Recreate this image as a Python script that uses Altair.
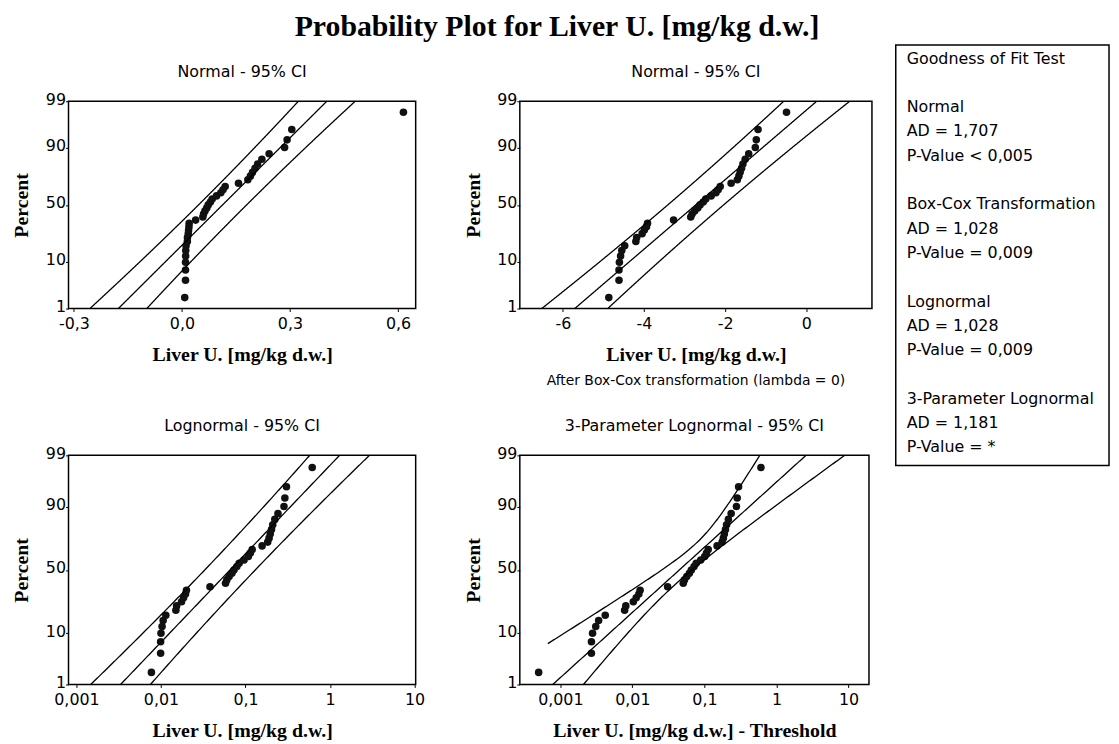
import altair as alt
import pandas as pd
from statistics import NormalDist

# Liver U. [mg/kg d.w.], 37 samples
LIVER_U = [
    0.0077, 0.0099, 0.0099, 0.0100, 0.0103, 0.0106, 0.0114, 0.0150, 0.0153,
    0.0175, 0.0185, 0.0195, 0.0200, 0.038,
    0.058, 0.060, 0.064, 0.069, 0.073, 0.079, 0.084, 0.096, 0.108, 0.114,
    0.120, 0.157,
    0.183, 0.190, 0.196, 0.203, 0.210, 0.222, 0.242, 0.285, 0.292, 0.305, 0.615,
]
THRESHOLD = 0.0072  # 3-parameter lognormal threshold

# fitted lines as drawn: (location, scale)
NORMAL_FIT = [0.1128, 0.1244]
LOGNORMAL_FIT = [-2.724, 1.282]    # on ln(x)
LOGNORMAL3_FIT = [-3.104, 1.739]   # on ln(x - threshold)
# width of the 95% bands
BAND_VAR = [0.075, 0.0055]                      # (a + b*z^2) * scale^2
LOGNORMAL3_LOWER_VAR = [0.008, 0.0296, 0.5]     # log10 units: a + b*(z - c)^2
LOGNORMAL3_UPPER_VAR = [0.008, 0.0098, 0.0059]  # log10 units: a + b*z^2 + c*z
LOWER_BAND_START = -1.5

PERCENT_TICKS = [1, 10, 50, 90, 99]
NORMAL_TICKS = [-0.3, 0.0, 0.3, 0.6]
BOXCOX_TICKS = [-6, -4, -2, 0]
LOG_TICKS = [0.001, 0.01, 0.1, 1, 10]

PANEL_TITLES = [
    "Normal - 95% CI",
    "Normal - 95% CI",
    "Lognormal - 95% CI",
    "3-Parameter Lognormal - 95% CI",
]
X_TITLE = "Liver U. [mg/kg d.w.]"
X_TITLE_3P = "Liver U. [mg/kg d.w.] - Threshold"
MAIN_TITLE = "Probability Plot for Liver U. [mg/kg d.w.]"
BOXCOX_NOTE = "After Box-Cox transformation (lambda = 0)"
GOF_LINES = [
    "Goodness of Fit Test", "",
    "Normal", "AD = 1,707", "P-Value < 0,005", "",
    "Box-Cox Transformation", "AD = 1,028", "P-Value = 0,009", "",
    "Lognormal", "AD = 1,028", "P-Value = 0,009", "",
    "3-Parameter Lognormal", "AD = 1,181", "P-Value = *",
]

Z_TICKS = [NormalDist().inv_cdf(p / 100) for p in PERCENT_TICKS]
Z_LO, Z_HI = Z_TICKS[0], Z_TICKS[-1]

SANS = "DejaVu Sans"
SERIF = "Liberation Serif"

TOP_H, BOT_H = 209, 231
LEFT_W, RIGHT_W = 350, 355
GOF_LINE_H = 24.5

points_df = pd.DataFrame({"liver": LIVER_U})

comma = "replace(replace(format(datum.value, '{f}'), '\u2212', '-'), '.', ',')"


def y_enc(h):
    return alt.Y(
        "z:Q",
        scale=alt.Scale(domain=[Z_LO, Z_HI], nice=False, zero=False),
        axis=alt.Axis(
            values=Z_TICKS,
            labelExpr="format(cumulativeNormal(datum.value) * 100, '.0f')",
            title="Percent", titleFont=SERIF, titleFontSize=20, titleFontWeight="bold",
            titleColor="black", titleX=-47, titleY=h / 2, titleAngle=-90,
            titleAlign="center", titleBaseline="middle",
            labelFont=SANS, labelFontSize=16, labelColor="black", labelPadding=0,
            labelOffset=-2,
            tickSize=3, tickColor="black", domain=False, grid=False,
            labelOverlap=False, labelFlush=False,
        ),
    )


def x_enc(scale, ticks, label_expr, title, w):
    return alt.X(
        "x:Q",
        scale=scale,
        axis=alt.Axis(
            values=ticks, labelExpr=label_expr,
            title=title, titleFont=SERIF, titleFontSize=20, titleFontWeight="bold",
            titleColor="black", titleX=w / 2, titleY=46,
            titleAlign="center", titleBaseline="middle",
            labelFont=SANS, labelFontSize=16, labelColor="black", labelPadding=4,
            tickSize=3, tickColor="black", domain=False, grid=False,
            labelOverlap=False, labelFlush=False,
        ),
    )


def panel(title, x_expr, bands, xenc, w, h, extra=()):
    pts = (
        alt.Chart(points_df)
        .transform_window(rank="row_number()", sort=[alt.SortField("liver", order="ascending")])
        .transform_joinaggregate(n="count()")
        .transform_calculate(
            z="quantileNormal((datum.rank - 0.3) / (datum.n + 0.4))",
            x=x_expr,
        )
        .mark_circle(size=58, color="#111111", opacity=1)
        .encode(x=xenc, y=y_enc(h))
    )
    lines = (
        alt.Chart(alt.sequence(Z_LO, Z_HI + 0.005, 0.01, as_="z"))
        .transform_calculate(lo=bands[0], mid=bands[1], hi=bands[2])
        .transform_fold(["lo", "mid", "hi"], as_=["band", "x"])
        .transform_filter("isValid(datum.x) && isFinite(datum.x)")
        .mark_line(color="black", strokeWidth=1.3, clip=True)
        .encode(x=xenc, y=y_enc(h), detail="band:N", order="z:Q")
    )
    head = (
        alt.Chart(pd.DataFrame({"t": [title]}))
        .mark_text(font=SANS, fontSize=16, color="black", align="center", baseline="middle")
        .encode(text="t:N", x=alt.value(w / 2), y=alt.value(-29.5))
    )
    return alt.layer(pts, lines, head, *extra).properties(width=w, height=h)


def normal_bands(fit, wrap="{}"):
    mu, s = fit
    a, b = BAND_VAR
    mid = f"({mu} + datum.z * {s})"
    se = f"({s} * sqrt({a} + {b} * datum.z * datum.z))"
    return [
        wrap.format(f"{mid} - 1.96 * {se}"),
        wrap.format(mid),
        wrap.format(f"{mid} + 1.96 * {se}"),
    ]


m3, s3 = LOGNORMAL3_FIT
la, lb, lc = LOGNORMAL3_LOWER_VAR
ua, ub, uc = LOGNORMAL3_UPPER_VAR
mid10 = f"(({m3} + datum.z * {s3}) / LN10)"
bands_3p = [
    f"datum.z >= {LOWER_BAND_START} ? pow(10, {mid10} - 1.96 * sqrt({la} + {lb} * pow(datum.z - {lc}, 2))) : null",
    f"pow(10, {mid10})",
    f"pow(10, {mid10} + 1.96 * sqrt({ua} + {ub} * datum.z * datum.z + {uc} * datum.z))",
]

log_label = "replace('' + datum.value, '.', ',')"

# decorations placed relative to the panels
main_title = (
    alt.Chart(pd.DataFrame({"t": [MAIN_TITLE]}))
    .mark_text(font=SERIF, fontSize=30, fontWeight="bold", color="black",
               align="left", baseline="alphabetic")
    .encode(text="t:N", x=alt.value(228), y=alt.value(-66))
)
anchor = (
    alt.Chart(pd.DataFrame({"t": [0]}))
    .mark_rule(strokeOpacity=0)
    .encode(x=alt.value(-60), x2=alt.value(-60), y=alt.value(-89.5), y2=alt.value(-88))
)
gof_box = (
    alt.Chart(pd.DataFrame({"t": [0]}))
    .mark_rect(fill="transparent", stroke="black", strokeWidth=1.5)
    .encode(x=alt.value(379), x2=alt.value(594), y=alt.value(-56.7), y2=alt.value(367.3))
)

# goodness-of-fit text: one text mark per block of consecutive lines
gof_blocks = []
start, block = 0, []
for i, line in enumerate(GOF_LINES + [""]):
    if line:
        if not block:
            start = i
        block.append(line)
    elif block:
        gof_blocks.append((start, block))
        block = []

gof_text = [
    alt.Chart(pd.DataFrame({"t": ["\n".join(lines)]}))
    .mark_text(font=SANS, fontSize=16, color="black", align="left", baseline="top",
               lineBreak="\n", lineHeight=GOF_LINE_H)
    .encode(text="t:N", x=alt.value(390), y=alt.value(-51 + start * GOF_LINE_H))
    for start, lines in gof_blocks
]
boxcox_note = (
    alt.Chart(pd.DataFrame({"t": [BOXCOX_NOTE]}))
    .mark_text(font=SANS, fontSize=14, color="black", align="center", baseline="middle")
    .encode(text="t:N", x=alt.value(RIGHT_W / 2), y=alt.value(TOP_H + 73))
)

p1 = panel(
    PANEL_TITLES[0], "datum.liver", normal_bands(NORMAL_FIT),
    x_enc(alt.Scale(domain=[-0.315, 0.649], nice=False, zero=False),
          NORMAL_TICKS, comma.format(f=".1f"), X_TITLE, LEFT_W),
    LEFT_W, TOP_H, extra=(main_title, anchor),
)
p2 = panel(
    PANEL_TITLES[1], "log(datum.liver)", normal_bands(LOGNORMAL_FIT),
    x_enc(alt.Scale(domain=[-7.06, 1.62], nice=False, zero=False),
          BOXCOX_TICKS, comma.format(f=".0f"), X_TITLE, RIGHT_W),
    RIGHT_W, TOP_H, extra=(gof_box, *gof_text, boxcox_note),
)
p3 = panel(
    PANEL_TITLES[2], "datum.liver", normal_bands(LOGNORMAL_FIT, "exp({})"),
    x_enc(alt.Scale(type="log", domain=[0.000805, 10.3], nice=False),
          LOG_TICKS, log_label, X_TITLE, LEFT_W),
    LEFT_W, BOT_H,
)
p4 = panel(
    PANEL_TITLES[3], f"datum.liver - {THRESHOLD}", bands_3p,
    x_enc(alt.Scale(type="log", domain=[0.000274, 19.2], nice=False),
          LOG_TICKS, log_label, X_TITLE_3P, 352),
    352, BOT_H,
)

chart = (
    alt.concat(p1, p2, p3, p4, columns=2, spacing={"row": 148, "column": 105}, bounds="flush")
    .properties(padding=0, background="white")
    .configure_view(stroke="black", strokeWidth=1.5)
)

chart.save("out.html", embed_options={"renderer": "svg", "actions": False})
